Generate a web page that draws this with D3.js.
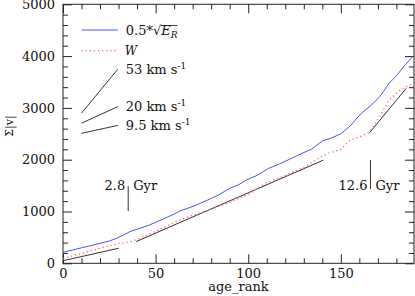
<!DOCTYPE html>
<html>
<head>
<meta charset="utf-8">
<script src="https://cdn.jsdelivr.net/npm/d3@7"></script>
<style>
  html, body { margin: 0; padding: 0; background: #fff; }
  svg { display: block; font-family: "DejaVu Serif", serif; }
</style>
</head>
<body>
<svg id="chart" width="415" height="296"></svg>
<script>
// cumulative 0.5*sqrt(E_R) against age rank
const rankE = [0, 5, 10, 15, 20, 25, 29, 33, 36, 41, 46, 50, 55, 60, 63, 68, 72, 78, 84, 90, 95, 99, 105, 111, 117, 123, 129, 134, 140, 145, 150, 155, 161, 166, 171, 176, 180, 184, 189];
const sumE  = [212, 255, 300, 340, 386, 430, 483, 550, 610, 670, 730, 790, 870, 950, 1009, 1070, 1125, 1220, 1318, 1448, 1520, 1608, 1700, 1833, 1920, 2020, 2123, 2200, 2360, 2420, 2500, 2650, 2895, 3040, 3215, 3474, 3620, 3800, 4000];

// cumulative |W|
const rankW = [0, 5, 10, 15, 20, 25, 30, 37, 45, 52, 60, 70, 80, 90, 100, 103, 110, 120, 130, 138, 143, 150, 155, 160, 165, 171, 176, 182, 189];
const sumW  = [90, 140, 190, 240, 290, 335, 380, 420, 540, 650, 790, 930, 1040, 1180, 1330, 1400, 1560, 1700, 1850, 2027, 2123, 2200, 2380, 2440, 2520, 2830, 3152, 3345, 3474];

// straight fits: [rank0, value0, rank1, value1]
const fits = [
  [0, 50, 30, 290],
  [39.5, 420, 140.5, 1990],
  [165.5, 2520, 185.3, 3378]
];

// legend slopes (km/s) and where their sample lines start
const speeds = ["53", "20", "9.5"];
const speedStart = [2900, 2705, 2510];
const slopeScale = 0.815;

// age marks
const markRank = [35.2, 166];
const markAge = ["2.8", "12.6"];

const xTicks = [0, 50, 100, 150];
const yTicks = [0, 1000, 2000, 3000, 4000, 5000];

const svg = d3.select("#chart");
const mLeft = 63, mRight = 414, mTop = 4.3, mBottom = 263.3;

const x = d3.scaleLinear().domain([0, 189.5]).range([mLeft, mRight]);
const y = d3.scaleLinear().domain([0, 5000]).range([mBottom, mTop]);

const ink = "#222";

// frame
svg.append("rect")
    .attr("x", mLeft).attr("y", mTop)
    .attr("width", mRight - mLeft).attr("height", mBottom - mTop)
    .attr("fill", "none").attr("stroke", ink).attr("stroke-width", 1);

const minorX = d3.range(0, 190, 10).filter(d => d % 50 !== 0);
const minorY = d3.range(0, 5001, 200).filter(d => d % 1000 !== 0);

function styleAxis(g) {
  g.select(".domain").remove();
  g.selectAll("line").attr("stroke", ink);
  g.selectAll("text").attr("fill", "#111").attr("font-size", 13)
      .attr("font-family", "DejaVu Serif, serif");
}

// bottom
svg.append("g").attr("transform", `translate(0,${mBottom})`)
    .call(d3.axisBottom(x).tickValues(xTicks).tickSize(-9).tickPadding(5).tickFormat(d3.format("d")))
    .call(styleAxis);
svg.append("g").attr("transform", `translate(0,${mBottom})`)
    .call(d3.axisBottom(x).tickValues(minorX).tickSize(-5).tickFormat(""))
    .call(styleAxis);
// top
svg.append("g").attr("transform", `translate(0,${mTop})`)
    .call(d3.axisTop(x).tickValues(xTicks).tickSize(-9).tickFormat(""))
    .call(styleAxis);
svg.append("g").attr("transform", `translate(0,${mTop})`)
    .call(d3.axisTop(x).tickValues(minorX).tickSize(-5).tickFormat(""))
    .call(styleAxis);
// left
svg.append("g").attr("transform", `translate(${mLeft},0)`)
    .call(d3.axisLeft(y).tickValues(yTicks).tickSize(-9).tickPadding(8).tickFormat(d3.format("d")))
    .call(styleAxis);
svg.append("g").attr("transform", `translate(${mLeft},0)`)
    .call(d3.axisLeft(y).tickValues(minorY).tickSize(-5).tickFormat(""))
    .call(styleAxis);
// right
svg.append("g").attr("transform", `translate(${mRight},0)`)
    .call(d3.axisRight(y).tickValues(yTicks).tickSize(-9).tickFormat(""))
    .call(styleAxis);
svg.append("g").attr("transform", `translate(${mRight},0)`)
    .call(d3.axisRight(y).tickValues(minorY).tickSize(-5).tickFormat(""))
    .call(styleAxis);

// axis titles
svg.append("text")
    .attr("x", (mLeft + mRight) / 2).attr("y", 291)
    .attr("text-anchor", "middle").attr("font-size", 13).attr("fill", "#111")
    .text("age_rank");
svg.append("text")
    .attr("transform", "translate(13,126) rotate(-90)")
    .attr("text-anchor", "middle").attr("font-size", 11).attr("fill", "#111")
    .text("Σ|v|");

const plot = svg.append("g");
const line = d3.line().x(d => x(d[0])).y(d => y(d[1]));

// fits
plot.selectAll("line.fit")
  .data(fits)
  .join("line")
    .attr("class", "fit")
    .attr("x1", d => x(d[0])).attr("y1", d => y(d[1]))
    .attr("x2", d => x(d[2])).attr("y2", d => y(d[3]))
    .attr("stroke", "#333").attr("stroke-width", 1);

// W
plot.append("path")
    .datum(d3.zip(rankW, sumW))
    .attr("d", line)
    .attr("fill", "none").attr("stroke", "#ff6a6a").attr("stroke-width", 1.3)
    .attr("stroke-dasharray", "1.3,2.8");

// E_R
plot.append("path")
    .datum(d3.zip(rankE, sumE))
    .attr("d", line)
    .attr("fill", "none").attr("stroke", "#5050ff").attr("stroke-width", 1);

// age marks
markRank.forEach((r, i) => {
  const yTop = i === 0 ? 186 : 160, yBot = i === 0 ? 211 : 189;
  svg.append("line")
      .attr("x1", x(r)).attr("x2", x(r)).attr("y1", yTop).attr("y2", yBot)
      .attr("stroke", "#333");
  svg.append("text")
      .attr("x", x(r) - 3).attr("y", 190).attr("text-anchor", "end")
      .attr("font-size", 13).attr("fill", "#111").text(markAge[i]);
  svg.append("text")
      .attr("x", x(r) + 5).attr("y", 190)
      .attr("font-size", 13).attr("fill", "#111").text("Gyr");
});

// legend
const lx0 = 10, lx1 = 29.6;
const legend = svg.append("g");
legend.append("line")
    .attr("x1", x(lx0)).attr("x2", x(lx1)).attr("y1", 30).attr("y2", 30)
    .attr("stroke", "#5050ff");
const eText = legend.append("text")
    .attr("x", x(lx1) + 8).attr("y", 35)
    .attr("font-size", 13).attr("fill", "#111");
eText.append("tspan").text("0.5*√");
eText.append("tspan").attr("font-style", "italic").text("E");
eText.append("tspan").attr("font-style", "italic").attr("font-size", 9).attr("dy", 3).text("R");
{
  const node = eText.node();
  const b = node.getExtentOfChar(6);
  const s = node.getExtentOfChar(4);
  legend.append("line")
      .attr("x1", s.x + s.width - 0.5).attr("x2", b.x + b.width)
      .attr("y1", s.y + 2.5).attr("y2", s.y + 2.5)
      .attr("stroke", "#111").attr("stroke-width", 0.8);
}

legend.append("line")
    .attr("x1", x(lx0)).attr("x2", x(lx1)).attr("y1", 50.7).attr("y2", 50.7)
    .attr("stroke", "#ff6a6a").attr("stroke-width", 1.3).attr("stroke-dasharray", "1.3,2.8");
legend.append("text")
    .attr("x", x(lx1) + 7).attr("y", 55)
    .attr("font-size", 12).attr("font-style", "italic").attr("fill", "#111").text("W");

speeds.forEach((v, i) => {
  const y0 = speedStart[i];
  const y1 = y0 + slopeScale * (+v) * (lx1 - lx0);
  legend.append("line")
      .attr("x1", x(lx0)).attr("y1", y(y0))
      .attr("x2", x(lx1)).attr("y2", y(y1))
      .attr("stroke", "#333");
  const t = legend.append("text")
      .attr("x", x(lx1) + 8).attr("y", y(y1) + 4.7)
      .attr("font-size", 13).attr("fill", "#111");
  t.append("tspan").text(v + " km s");
  t.append("tspan").attr("font-size", 9).attr("dy", -5).text("-1");
});
</script>
</body>
</html>
